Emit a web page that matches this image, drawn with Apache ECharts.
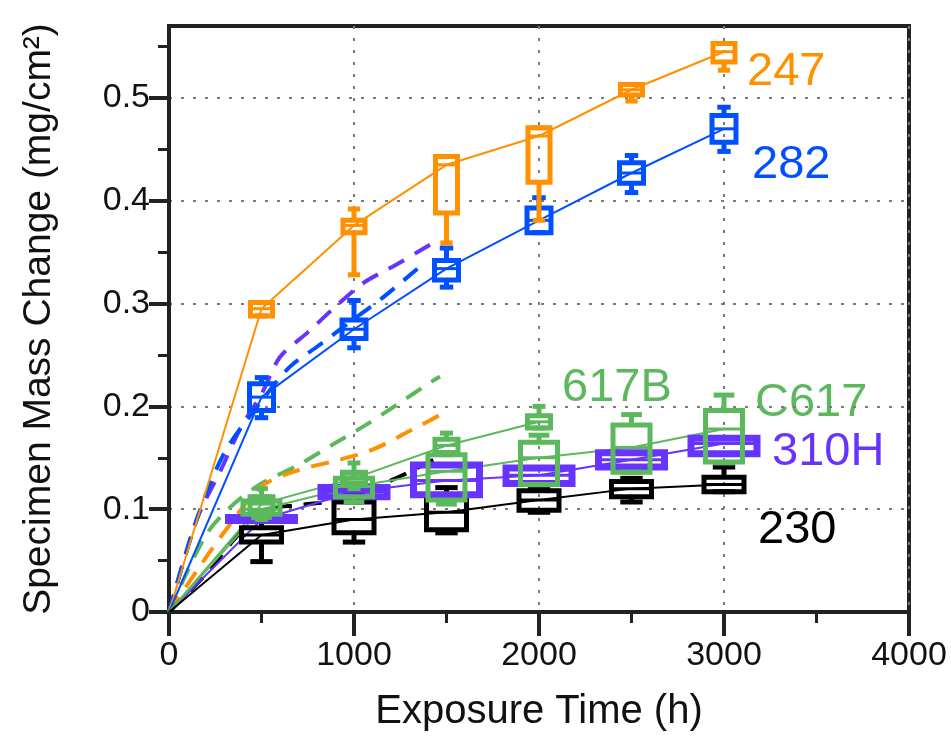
<!DOCTYPE html>
<html>
<head>
<meta charset="utf-8">
<script src="https://cdn.jsdelivr.net/npm/echarts@6/dist/echarts.min.js"></script>
<style>
  html, body { margin: 0; padding: 0; background: #fff; }
  #chart { width: 951px; height: 741px; }
</style>
</head>
<body>
<div id="chart"></div>
<script>
// box stats per point: [hours, min, q1, median, q3, max]
var origin = [0, 0];
var stats247 = [
  [500, 0.288, 0.288, 0.295, 0.301, 0.301],
  [1000, 0.328, 0.369, 0.376, 0.381, 0.392],
  [1500, 0.359, 0.388, 0.435, 0.443, 0.443],
  [2000, 0.381, 0.418, 0.463, 0.471, 0.471],
  [2500, 0.497, 0.503, 0.508, 0.513, 0.513],
  [3000, 0.527, 0.535, 0.545, 0.553, 0.553]
];
var stats282 = [
  [500, 0.189, 0.196, 0.209, 0.222, 0.228],
  [1000, 0.257, 0.266, 0.275, 0.284, 0.303],
  [1500, 0.316, 0.323, 0.334, 0.342, 0.354],
  [2000, 0.369, 0.369, 0.381, 0.393, 0.403],
  [2500, 0.408, 0.417, 0.427, 0.437, 0.444],
  [3000, 0.448, 0.457, 0.470, 0.483, 0.491]
];
var stats310H = [
  [500, 0.089, 0.089, 0.090, 0.092, 0.092],
  [1000, 0.112, 0.112, 0.117, 0.121, 0.121],
  [1500, 0.114, 0.114, 0.128, 0.143, 0.143],
  [2000, 0.125, 0.125, 0.133, 0.140, 0.140],
  [2500, 0.141, 0.141, 0.148, 0.155, 0.155],
  [3000, 0.154, 0.154, 0.164, 0.169, 0.169]
];
var statsC617 = [
  [500, 0.092, 0.095, 0.100, 0.108, 0.112],
  [1000, 0.107, 0.112, 0.122, 0.130, 0.135],
  [1500, 0.105, 0.109, 0.137, 0.153, 0.155],
  [2000, 0.124, 0.124, 0.150, 0.165, 0.172],
  [2500, 0.136, 0.136, 0.160, 0.182, 0.192],
  [3000, 0.145, 0.146, 0.178, 0.196, 0.211]
];
var stats617B = [
  [500, 0.090, 0.098, 0.105, 0.112, 0.120],
  [1000, 0.120, 0.125, 0.130, 0.136, 0.145],
  [1500, 0.153, 0.155, 0.162, 0.168, 0.174],
  [2000, 0.179, 0.179, 0.185, 0.191, 0.200]
];
var stats230 = [
  [500, 0.049, 0.068, 0.075, 0.082, 0.096],
  [1000, 0.068, 0.077, 0.090, 0.107, 0.114],
  [1500, 0.077, 0.080, 0.097, 0.111, 0.121],
  [2000, 0.097, 0.099, 0.109, 0.118, 0.119],
  [2500, 0.107, 0.112, 0.120, 0.127, 0.130],
  [3000, 0.117, 0.117, 0.124, 0.131, 0.141]
];

// dashed curves
var dash310H = [[0, 0], [150, 0.09], [280, 0.138], [390, 0.18], [500, 0.212], [600, 0.248], [750, 0.272], [900, 0.297], [1050, 0.32], [1230, 0.338], [1400, 0.356], [1465, 0.362]];
var dash282 = [[0, 0], [150, 0.09], [300, 0.155], [500, 0.205], [650, 0.238], [800, 0.258], [1000, 0.285], [1150, 0.305], [1350, 0.335]];
var dashGreen = [[0, 0], [200, 0.075], [350, 0.105], [500, 0.125], [700, 0.143], [885, 0.163], [1065, 0.182], [1235, 0.202], [1410, 0.223], [1465, 0.229]];
var dash247 = [[0, 0], [150, 0.04], [300, 0.078], [500, 0.122], [700, 0.138], [900, 0.147], [1100, 0.158], [1300, 0.176], [1500, 0.195]];
var dash230 = [[0, 0], [200, 0.037], [350, 0.07], [500, 0.098], [700, 0.104], [900, 0.108], [1050, 0.117], [1250, 0.132], [1460, 0.151]];

var xTicks = [0, 1000, 2000, 3000, 4000];
var yTicks = [0, 0.1, 0.2, 0.3, 0.4, 0.5];
var yMinorTicks = [0.05, 0.15, 0.25, 0.35, 0.45, 0.55];
var labelNames = ['247', '282', '617B', 'C617', '310H', '230'];

var FONT = '"Liberation Sans", Arial, sans-serif';
var ORANGE = '#ff9000', BLUE = '#0050ff', PURPLE = '#6633ff', GREEN = '#5cb85c', BLACK = '#000';

function medians(stats) {
  return [origin].concat(stats.map(function (d) { return [d[0], d[3]]; }));
}

function boxItem(color, w, lw) {
  return function (params, api) {
    var x = api.value(0);
    var lo = api.coord([x, api.value(1)]);
    var q1 = api.coord([x, api.value(2)]);
    var md = api.coord([x, api.value(3)]);
    var q3 = api.coord([x, api.value(4)]);
    var hi = api.coord([x, api.value(5)]);
    var cx = lo[0], h = w / 2, c = w * 0.28;
    var st = {stroke: color, lineWidth: lw, fill: 'none'};
    var wst = {stroke: color, lineWidth: 5};
    return {
      type: 'group',
      children: [
        {type: 'line', shape: {x1: cx, y1: lo[1], x2: cx, y2: q1[1]}, style: wst},
        {type: 'line', shape: {x1: cx, y1: q3[1], x2: cx, y2: hi[1]}, style: wst},
        {type: 'line', shape: {x1: cx - c, y1: lo[1], x2: cx + c, y2: lo[1]}, style: wst},
        {type: 'line', shape: {x1: cx - c, y1: hi[1], x2: cx + c, y2: hi[1]}, style: wst},
        {type: 'rect', shape: {x: cx - h, y: q3[1], width: w, height: q1[1] - q3[1]}, style: st},
        {type: 'line', shape: {x1: cx - h, y1: md[1], x2: cx + h, y2: md[1]}, style: {stroke: color, lineWidth: 3}}
      ]
    };
  };
}

function solid(data, color) {
  return {type: 'line', data: data, symbol: 'none', z: 3,
    lineStyle: {color: color, width: 2}};
}
function dashed(data, color) {
  return {type: 'line', data: data, symbol: 'none', smooth: 0.3, z: 2,
    lineStyle: {color: color, width: 4, type: [18, 12]}};
}
function boxes(data, color, w, z, lw) {
  return {type: 'custom', data: data, z: z, renderItem: boxItem(color, w, lw || 5),
    encode: {x: 0, y: [1, 2, 3, 4, 5]}};
}

var chart = echarts.init(document.getElementById('chart'));

var splitStyle = {show: true, lineStyle: {color: '#7a7a7a', width: 2, type: [3, 9]}};

chart.setOption({
  animation: false,
  textStyle: {fontFamily: FONT},
  grid: {left: 169, right: 42, top: 26, bottom: 129, show: true,
    borderColor: '#222', borderWidth: 4, backgroundColor: 'transparent'},
  xAxis: {
    type: 'value', min: 0, max: 4000, interval: 1000,
    name: 'Exposure Time (h)', nameLocation: 'middle', nameGap: 80,
    nameTextStyle: {fontSize: 40, color: '#111', fontFamily: FONT},
    axisLine: {show: true, lineStyle: {color: '#222', width: 4}},
    axisTick: {show: true, inside: false, length: 24, lineStyle: {color: '#222', width: 4}},
    minorTick: {show: true, splitNumber: 2, length: 11, lineStyle: {color: '#222', width: 3}},
    axisLabel: {fontSize: 34, color: '#111', margin: 27, fontFamily: FONT,
      customValues: xTicks, formatter: function (v) { return String(v); }},
    splitLine: splitStyle
  },
  yAxis: [{
    type: 'value', min: 0, max: 0.57, interval: 0.1,
    name: 'Specimen Mass Change (mg/cm²)', nameLocation: 'middle', nameGap: 110,
    nameTextStyle: {fontSize: 39, color: '#111', fontFamily: FONT},
    axisLine: {show: true, lineStyle: {color: '#222', width: 4}},
    axisTick: {show: true, length: 20, lineStyle: {color: '#222', width: 4},
      customValues: yTicks},
    axisLabel: {fontSize: 34, color: '#111', margin: 19, fontFamily: FONT,
      customValues: yTicks, formatter: function (v) { return String(v); }},
    splitLine: splitStyle
  }, {
    type: 'value', min: 0, max: 0.57, position: 'left',
    axisLine: {show: false},
    axisTick: {show: true, length: 11, lineStyle: {color: '#222', width: 3},
      customValues: yMinorTicks},
    axisLabel: {show: false},
    splitLine: {show: false}
  }],
  series: [
    dashed(dash310H, PURPLE),
    dashed(dash282, BLUE),
    dashed(dashGreen, GREEN),
    dashed(dash247, ORANGE),
    dashed(dash230, BLACK),
    solid(medians(stats247), ORANGE),
    solid(medians(stats282), BLUE),
    solid(medians(stats310H), PURPLE),
    solid(medians(statsC617), GREEN),
    solid(medians(stats617B), GREEN),
    solid(medians(stats230), BLACK),
    boxes(stats282, BLUE, 24, 4),
    boxes(stats247, ORANGE, 22, 5),
    boxes(stats230, BLACK, 40, 6),
    boxes(stats310H, PURPLE, 66, 7, 7),
    boxes(statsC617, GREEN, 37, 8),
    boxes(stats617B, GREEN, 23, 9)
  ],
  graphic: [
    {type: 'text', x: 747, y: 72, style: {text: labelNames[0], fill: ORANGE, font: '47px ' + FONT, textVerticalAlign: 'middle'}},
    {type: 'text', x: 752, y: 165, style: {text: labelNames[1], fill: BLUE, font: '47px ' + FONT, textVerticalAlign: 'middle'}},
    {type: 'text', x: 562, y: 388, style: {text: labelNames[2], fill: GREEN, font: '47px ' + FONT, textVerticalAlign: 'middle'}},
    {type: 'text', x: 755, y: 403, style: {text: labelNames[3], fill: GREEN, font: '47px ' + FONT, textVerticalAlign: 'middle'}},
    {type: 'text', x: 772, y: 452, style: {text: labelNames[4], fill: PURPLE, font: '47px ' + FONT, textVerticalAlign: 'middle'}},
    {type: 'text', x: 758, y: 530, style: {text: labelNames[5], fill: BLACK, font: '47px ' + FONT, textVerticalAlign: 'middle'}}
  ]
});
</script>
</body>
</html>
